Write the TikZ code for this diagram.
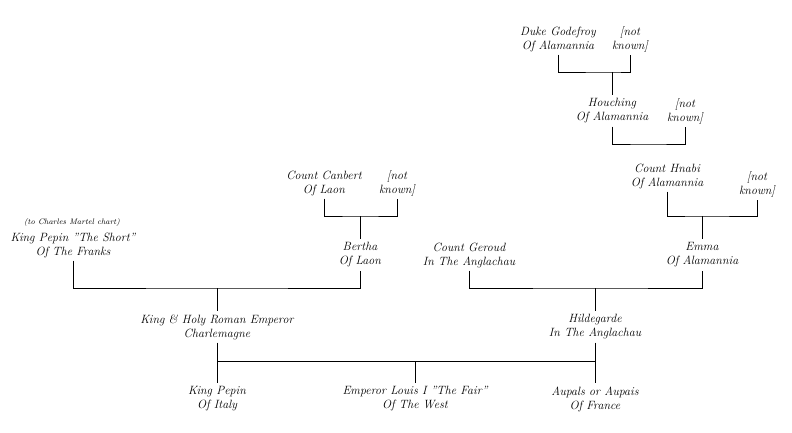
\documentclass[tikz,border=0pt]{standalone}
\usepackage{fontspec}
\setmainfont{Latin Modern Roman}
\begin{document}
\begin{tikzpicture}[x=1pt,y=-1pt,
  person/.style={align=center,font=\fontsize{12}{14}\selectfont\itshape,inner sep=3pt},
  note/.style={font=\fontsize{8}{9}\selectfont\itshape,inner sep=0pt},
  link/.style={draw=black,line width=0.8pt}]
\useasboundingbox (0,0) rectangle (792,432);
% generation 1
\node[person] (godefroy) at (558,39) {Duke Godefroy\\Of Alamannia};
\node[person] (nk1) at (630,39) {[not\\known]};
% generation 2
\node[person] (houching) at (612,111) {Houching\\Of Alamannia};
\node[person] (nk2) at (685,111) {[not\\known]};
% generation 3
\node[person] (canbert) at (324,183) {Count Canbert\\Of Laon};
\node[person] (nk3) at (397,183) {[not\\known]};
\node[person] (hnabi) at (667,176) {Count Hnabi\\Of Alamannia};
\node[person] (nk4) at (757,184) {[not\\known]};
% generation 4
\node[note] (martel) at (72,222) {(to Charles Martel chart)};
\node[person] (pepinshort) at (73,245) {King Pepin "The Short"\\Of The Franks};
\node[person] (bertha) at (360,255) {Bertha\\Of Laon};
\node[person] (geroud) at (469,255) {Count Geroud\\In The Anglachau};
\node[person] (emma) at (702,255) {Emma\\Of Alamannia};
% generation 5
\node[person] (charlemagne) at (217,327) {King \& Holy Roman Emperor\\Charlemagne};
\node[person] (hildegarde) at (595,327) {Hildegarde\\In The Anglachau};
% generation 6
\node[person] (pepinitaly) at (217,399) {King Pepin\\Of Italy};
\node[person] (louis) at (415,399) {Emperor Louis I "The Fair"\\Of The West};
\node[person] (aupais) at (595,399) {Aupals or Aupais\\Of France};
% bars
\coordinate (b1) at (612,72);
\coordinate (b2) at (648,144);
\coordinate (b3) at (360,216);
\coordinate (b4) at (702,216);
\coordinate (b5) at (217,288);
\coordinate (b6) at (595,288);
\coordinate (b7) at (415,361);
% connectors
\draw[link] (godefroy.south) |- (b1) -| (nk1.south);
\draw[link] (b1) -- (houching.north);
\draw[link] (houching.south) |- (b2) -| (nk2.south);
\draw[link] (canbert.south) |- (b3) -| (nk3.south);
\draw[link] (b3) -- (bertha.north);
\draw[link] (hnabi.south) |- (b4) -| (nk4.south);
\draw[link] (b4) -- (emma.north);
\draw[link] (pepinshort.south) |- (b5) -| (bertha.south);
\draw[link] (b5) -- (charlemagne.north);
\draw[link] (geroud.south) |- (b6) -| (emma.south);
\draw[link] (b6) -- (hildegarde.north);
\draw[link] (charlemagne.south) -- (pepinitaly.north);
\draw[link] (hildegarde.south) -- (aupais.north);
\draw[link] (charlemagne |- b7) -- (hildegarde |- b7);
\draw[link] (b7) -- (louis.north);
\end{tikzpicture}
\end{document}
